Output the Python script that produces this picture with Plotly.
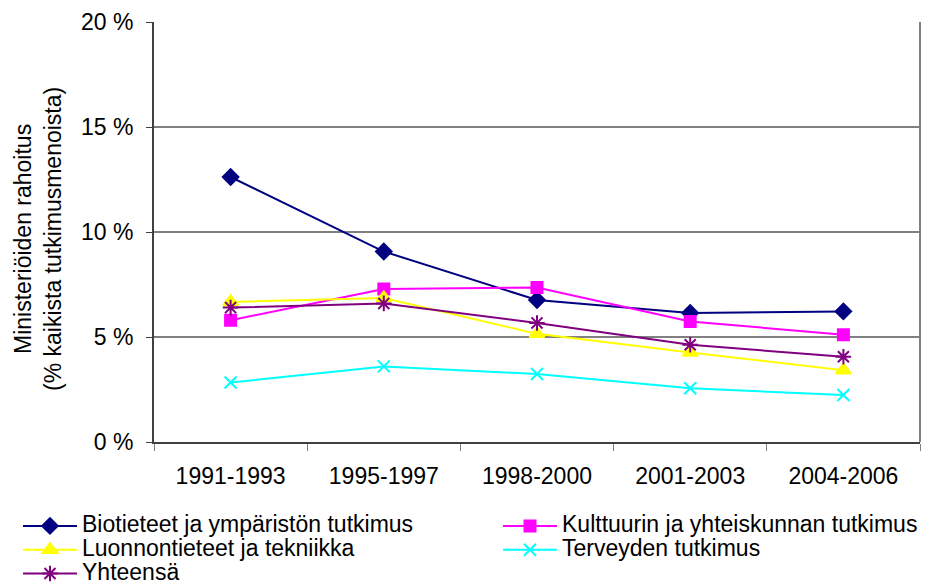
import plotly.graph_objects as go

categories = ["1991-1993", "1995-1997", "1998-2000", "2001-2003", "2004-2006"]
bio = [12.62, 9.07, 6.76, 6.14, 6.22]
kulttuuri = [5.80, 7.28, 7.36, 5.74, 5.11]
luonnon = [6.67, 6.86, 5.15, 4.26, 3.42]
terveys = [2.83, 3.60, 3.24, 2.56, 2.24]
yhteensa = [6.40, 6.60, 5.67, 4.63, 4.06]
y_ticks = [0, 5, 10, 15, 20]
y_ticktext = ["0 %", "5 %", "10 %", "15 %", "20 %"]

series = [
    ("Biotieteet ja ympäristön tutkimus", bio, "#000080", "diamond", 12, "legend"),
    ("Kulttuurin ja yhteiskunnan tutkimus", kulttuuri, "#FF00FF", "square", 11, "legend2"),
    ("Luonnontieteet ja tekniikka", luonnon, "#FFFF00", "triangle-up", 13, "legend"),
    ("Terveyden tutkimus", terveys, "#00FFFF", "x-thin-open", 12, "legend2"),
    ("Yhteensä", yhteensa, "#800080", "asterisk-open", 13, "legend"),
]

fig = go.Figure()
for name, vals, color, sym, size, lg in series:
    fig.add_trace(go.Scatter(
        x=categories, y=vals, mode="lines+markers",
        name='<span style="font-size:23px">' + name + "</span>",
        line=dict(color=color, width=2),
        marker=dict(symbol=sym, size=size, color=color,
                    line=dict(color=color, width=2)),
        legend=lg,
    ))

W, H = 932, 576  # page body has an 8px margin
FONT = "Liberation Sans, Arial, sans-serif"
leg_common = dict(
    orientation="v", xref="container", yref="container",
    xanchor="left", yanchor="top", font=dict(size=16),
    tracegroupgap=0, itemwidth=54, bgcolor="rgba(0,0,0,0)",
)
fig.update_layout(
    width=W, height=H,
    margin=dict(l=146, r=20, t=14, b=142, autoexpand=False),
    plot_bgcolor="white", paper_bgcolor="white",
    font=dict(family=FONT, size=23, color="black"),
    showlegend=True,
    legend=dict(x=10 / W, y=1 - 501 / H, **leg_common),
    legend2=dict(x=490 / W, y=1 - 501 / H, **leg_common),
    xaxis=dict(
        type="category", showline=True, linecolor="#404040", linewidth=2,
        ticks="outside", tickson="boundaries", ticklen=7, tickcolor="#808080",
        showgrid=False, range=[-0.5, 4.5], tickfont=dict(size=23),
        ticklabelstandoff=12,
    ),
    yaxis=dict(
        range=[0, 20], tickvals=y_ticks, ticktext=y_ticktext,
        showline=True, linecolor="#404040", linewidth=2,
        ticks="outside", ticklen=6, tickcolor="#404040",
        showgrid=True, gridcolor="#808080", gridwidth=2, zeroline=False,
        tickfont=dict(size=23), ticklabelstandoff=8,
    ),
    annotations=[dict(
        text="Ministeriöiden rahoitus<br>(% kaikista tutkimusmenoista)",
        xref="paper", yref="paper", x=(30 - 146) / 766, y=1 - (231 - 14) / 420,
        xanchor="center", yanchor="middle", textangle=-90, showarrow=False,
        font=dict(size=23),
    )],
    shapes=[dict(type="line", xref="paper", yref="paper", x0=1, x1=1, y0=0, y1=1,
                 line=dict(color="#808080", width=2))],
)

fig.write_html("out.html")
